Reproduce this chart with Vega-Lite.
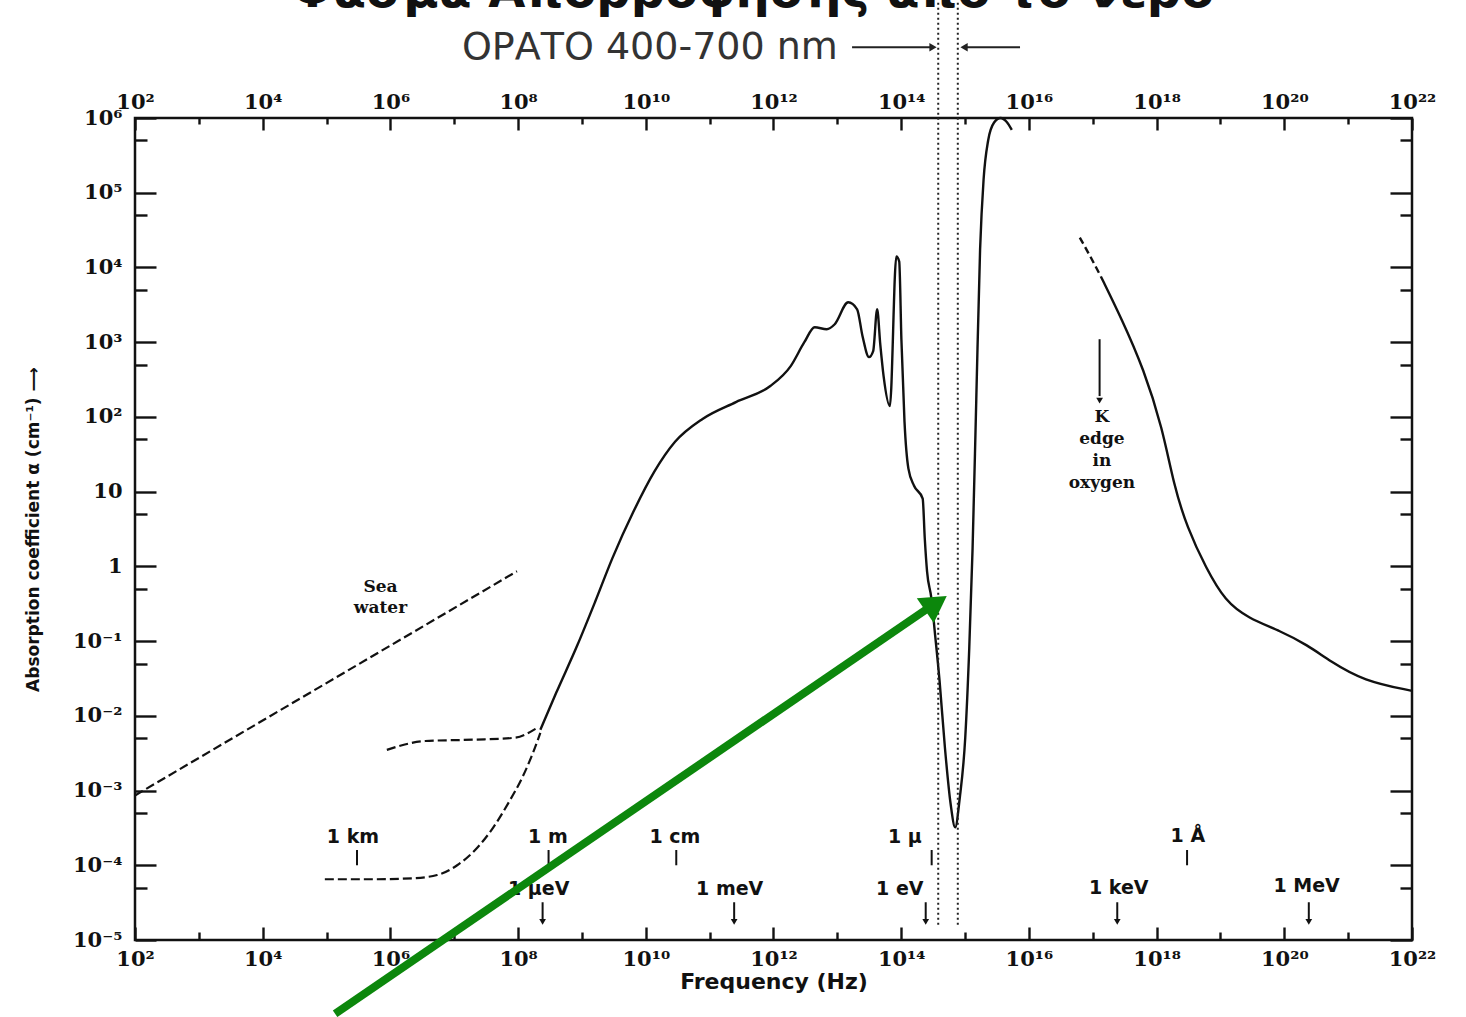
{
  "$schema": "https://vega.github.io/schema/vega-lite/v6.json",
  "autosize": {"type": "none"},
  "width": 1277,
  "height": 822,
  "padding": {"left": 135, "top": 118, "right": 54, "bottom": 77},
  "background": "white",
  "config": {
    "view": {"stroke": "#111", "strokeWidth": 2.5},
    "axis": {
      "domain": false, "grid": false, "tickColor": "#111", "tickWidth": 2.4,
      "labelFont": "DejaVu Serif", "labelFontWeight": "bold", "labelFontSize": 21,
      "labelColor": "#111", "labelFlush": false, "labelOverlap": false,
      "titleFont": "DejaVu Sans", "titleColor": "#111"
    }
  },
  "datasets": {
    "main": [
      {"f": 2.23e8, "a": 0.0065}, {"f": 3.95e8, "a": 0.0203}, {"f": 8.49e8, "a": 0.0885},
      {"f": 1.62e9, "a": 0.341}, {"f": 2.99e9, "a": 1.28}, {"f": 6.41e9, "a": 5.41},
      {"f": 1.36e10, "a": 18.5}, {"f": 2.87e10, "a": 46.4}, {"f": 7.74e10, "a": 94},
      {"f": 2.58e11, "a": 158}, {"f": 8.91e11, "a": 259}, {"f": 1.86e12, "a": 479},
      {"f": 3.04e12, "a": 1000}, {"f": 4.42e12, "a": 1585}, {"f": 6.81e12, "a": 1490},
      {"f": 9.1e12, "a": 1738}, {"f": 1.48e13, "a": 3415}, {"f": 2.04e13, "a": 2754},
      {"f": 2.48e13, "a": 1202}, {"f": 3.13e13, "a": 631}, {"f": 3.64e13, "a": 759},
      {"f": 4.2e13, "a": 2754}, {"f": 4.7e13, "a": 940}, {"f": 5.3e13, "a": 352},
      {"f": 6.65e13, "a": 140}, {"f": 8.39e13, "a": 14028}, {"f": 9.31e13, "a": 12023},
      {"f": 1.007e14, "a": 1096}, {"f": 1.127e14, "a": 85.8}, {"f": 1.297e14, "a": 20.3},
      {"f": 1.589e14, "a": 12.0}, {"f": 2.17e14, "a": 8.07}, {"f": 2.34e14, "a": 2.36},
      {"f": 2.54e14, "a": 0.858}, {"f": 2.97e14, "a": 0.374}, {"f": 3.35e14, "a": 0.136},
      {"f": 3.99e14, "a": 0.0293}, {"f": 4.84e14, "a": 0.00374}, {"f": 5.96e14, "a": 0.00065},
      {"f": 7.0e14, "a": 0.000321}, {"f": 8.28e14, "a": 0.000807}, {"f": 1.007e15, "a": 0.00509},
      {"f": 1.164e15, "a": 0.0807}, {"f": 1.312e15, "a": 1.74}, {"f": 1.5e15, "a": 174},
      {"f": 1.72e15, "a": 17378}, {"f": 1.95e15, "a": 149000}, {"f": 2.3e15, "a": 500000},
      {"f": 2.85e15, "a": 870000}, {"f": 3.6e15, "a": 1000000}, {"f": 4.5e15, "a": 885000},
      {"f": 5.4e15, "a": 692000}
    ],
    "right": [
      {"f": 1.34e17, "a": 7586}, {"f": 2.86e17, "a": 2027}, {"f": 6.28e17, "a": 437},
      {"f": 1.23e18, "a": 72}, {"f": 1.87e18, "a": 12.0}, {"f": 3.01e18, "a": 3.3},
      {"f": 5.96e18, "a": 0.94}, {"f": 1.19e19, "a": 0.341}, {"f": 2.7e19, "a": 0.203},
      {"f": 8.79e19, "a": 0.136}, {"f": 2.3e20, "a": 0.0885}, {"f": 5.2e20, "a": 0.0541},
      {"f": 1.74e21, "a": 0.0293}, {"f": 1e22, "a": 0.0216}
    ],
    "kdash": [
      {"f": 6.27e16, "a": 25119}, {"f": 9.16e16, "a": 14028}, {"f": 1.34e17, "a": 7586}
    ],
    "dashLow": [
      {"f": 9.4e4, "a": 6.5e-5}, {"f": 5.1e5, "a": 6.5e-5}, {"f": 2.2e6, "a": 6.7e-5},
      {"f": 5.4e6, "a": 7.4e-5}, {"f": 1.11e7, "a": 1.0e-4}, {"f": 2.33e7, "a": 1.74e-4},
      {"f": 4.07e7, "a": 3.2e-4}, {"f": 7.1e7, "a": 6.9e-4}, {"f": 1.16e8, "a": 0.00149},
      {"f": 1.71e8, "a": 0.0032}, {"f": 2.23e8, "a": 0.0059}
    ],
    "dashMid": [
      {"f": 8.8e5, "a": 0.0035}, {"f": 3.5e6, "a": 0.0046}, {"f": 2.1e7, "a": 0.0048},
      {"f": 9.0e7, "a": 0.0051}, {"f": 1.87e8, "a": 0.0067}
    ],
    "sea": [
      {"f": 100, "a": 0.00086}, {"f": 9.6e7, "a": 0.86}
    ],
    "visible": [
      {"f": 3.8e14, "a": 1.6e-5, "a2": 1e8},
      {"f": 7.7e14, "a": 1.6e-5, "a2": 1e8}
    ],
    "title": [
      {"f": 4.8e11, "a": 3.1e7, "label": "Φάσμα Απορρόφησης από το νερό"}
    ],
    "notes": [
      {"f": 7.0e5, "a": 0.525, "label": "Sea"},
      {"f": 7.0e5, "a": 0.275, "label": "water"},
      {"f": 1.39e17, "a": 100, "label": "K"},
      {"f": 1.39e17, "a": 50.9, "label": "edge"},
      {"f": 1.39e17, "a": 25.9, "label": "in"},
      {"f": 1.39e17, "a": 13.2, "label": "oxygen"}
    ],
    "scaleLabels": [
      {"f": 2.59e5, "a": 2.36e-4, "label": "1 km"},
      {"f": 2.93e8, "a": 2.36e-4, "label": "1 m"},
      {"f": 2.86e10, "a": 2.36e-4, "label": "1 cm"},
      {"f": 1.14e14, "a": 2.36e-4, "label": "1 μ"},
      {"f": 3.09e18, "a": 2.5e-4, "label": "1 Å"},
      {"f": 2.1e8, "a": 4.79e-5, "label": "1 μeV"},
      {"f": 2.06e11, "a": 4.79e-5, "label": "1 meV"},
      {"f": 9.5e13, "a": 4.79e-5, "label": "1 eV"},
      {"f": 2.55e17, "a": 5.0e-5, "label": "1 keV"},
      {"f": 2.24e20, "a": 5.2e-5, "label": "1 MeV"}
    ],
    "wticks": [
      {"f": 3e5, "a": 1.6e-4, "a2": 1.0e-4},
      {"f": 3e8, "a": 1.6e-4, "a2": 1.0e-4},
      {"f": 3e10, "a": 1.6e-4, "a2": 1.0e-4},
      {"f": 3e14, "a": 1.6e-4, "a2": 1.0e-4},
      {"f": 3e18, "a": 1.6e-4, "a2": 1.0e-4}
    ],
    "downArrows": [
      {"f": 2.42e8, "a": 3.2e-5, "a2": 1.9e-5, "h": 1.75e-5},
      {"f": 2.42e11, "a": 3.2e-5, "a2": 1.9e-5, "h": 1.75e-5},
      {"f": 2.42e14, "a": 3.2e-5, "a2": 1.9e-5, "h": 1.75e-5},
      {"f": 2.42e17, "a": 3.2e-5, "a2": 1.9e-5, "h": 1.75e-5},
      {"f": 2.42e20, "a": 3.2e-5, "a2": 1.9e-5, "h": 1.75e-5},
      {"f": 1.28e17, "a": 1096, "a2": 190, "h": 165}
    ],
    "header": [
      {"f": 1.02e13, "a": 8.6e6, "label": "ΟΡΑΤΟ 400-700 nm"}
    ],
    "headerArrows": [
      {"f": 1.7e13, "f2": 3.15e14, "a": 8.85e6},
      {"f": 9.64e14, "f2": 7.26e15, "a": 8.85e6}
    ],
    "headRight": [{"f": 3.15e14, "a": 8.85e6}],
    "headLeft": [{"f": 9.64e14, "a": 8.85e6}],
    "green": [
      {"f": 1.36e5, "a": 1.03e-6}, {"f": 2.63e14, "a": 0.275}
    ],
    "greenHead": [{"f": 3.51e14, "a": 0.321}]
  },
  "encoding": {
    "x": {"field": "f", "type": "quantitative", "scale": {"type": "log", "domain": [100, 1e22], "nice": false}, "axis": null},
    "y": {"field": "a", "type": "quantitative", "scale": {"type": "log", "domain": [1e-5, 1e6], "nice": false}, "axis": null}
  },
  "resolve": {"axis": {"x": "independent", "y": "independent"}},
  "layer": [
    {
      "data": {"name": "main"},
      "mark": {"type": "line", "color": "#111", "strokeWidth": 2.4, "interpolate": "monotone"},
      "encoding": {
        "x": {"field": "f", "type": "quantitative", "scale": {"type": "log", "domain": [100, 1e22], "nice": false},
          "axis": {"orient": "bottom", "values": [1e2, 1e4, 1e6, 1e8, 1e10, 1e12, 1e14, 1e16, 1e18, 1e20, 1e22],
            "tickSize": -13, "labelPadding": 21,
            "labelExpr": "['','','10²','','10⁴','','10⁶','','10⁸','','10¹⁰','','10¹²','','10¹⁴','','10¹⁶','','10¹⁸','','10²⁰','','10²²'][round(log(datum.value)/LN10)]",
            "title": "Frequency (Hz)", "titleFontSize": 22, "titleFontWeight": "bold", "titlePadding": 2}},
        "y": {"field": "a", "type": "quantitative", "scale": {"type": "log", "domain": [1e-5, 1e6], "nice": false},
          "axis": {"orient": "left", "values": [1e-5, 1e-4, 1e-3, 1e-2, 1e-1, 1, 10, 100, 1000, 1e4, 1e5, 1e6],
            "tickSize": -21, "labelPadding": 34,
            "labelExpr": "['10⁻⁵','10⁻⁴','10⁻³','10⁻²','10⁻¹','1','10','10²','10³','10⁴','10⁵','10⁶'][round(log(datum.value)/LN10)+5]",
            "title": "Absorption coefficient α (cm⁻¹) ⟶", "titleFontSize": 17, "titleFontWeight": "bold", "titlePadding": 30}}
      }
    },
    {
      "data": {"name": "dashLow"},
      "mark": {"type": "line", "color": "#111", "strokeWidth": 2.2, "strokeDash": [9, 4], "interpolate": "monotone"},
      "encoding": {
        "x": {"field": "f", "type": "quantitative",
          "axis": {"orient": "bottom", "values": [1e3, 1e5, 1e7, 1e9, 1e11, 1e13, 1e15, 1e17, 1e19, 1e21],
            "tickSize": -8, "labels": false, "title": null}},
        "y": {"field": "a", "type": "quantitative",
          "axis": {"orient": "left", "values": [5e-5, 5e-4, 5e-3, 5e-2, 0.5, 5, 50, 500, 5000, 5e4, 5e5],
            "tickSize": -12, "labels": false, "title": null}}
      }
    },
    {
      "data": {"name": "dashMid"},
      "mark": {"type": "line", "color": "#111", "strokeWidth": 2.2, "strokeDash": [9, 4], "interpolate": "monotone"},
      "encoding": {
        "x": {"field": "f", "type": "quantitative",
          "axis": {"orient": "top", "values": [1e2, 1e4, 1e6, 1e8, 1e10, 1e12, 1e14, 1e16, 1e18, 1e20, 1e22],
            "tickSize": -12, "labelPadding": 18,
            "labelExpr": "['','','10²','','10⁴','','10⁶','','10⁸','','10¹⁰','','10¹²','','10¹⁴','','10¹⁶','','10¹⁸','','10²⁰','','10²²'][round(log(datum.value)/LN10)]",
            "title": null}},
        "y": {"field": "a", "type": "quantitative",
          "axis": {"orient": "right", "values": [1e-5, 1e-4, 1e-3, 1e-2, 1e-1, 1, 10, 100, 1000, 1e4, 1e5, 1e6],
            "tickSize": -22, "labels": false, "title": null}}
      }
    },
    {
      "data": {"name": "sea"},
      "mark": {"type": "line", "color": "#111", "strokeWidth": 2.2, "strokeDash": [9, 4]},
      "encoding": {
        "x": {"field": "f", "type": "quantitative",
          "axis": {"orient": "top", "values": [1e3, 1e5, 1e7, 1e9, 1e11, 1e13, 1e15, 1e17, 1e19, 1e21],
            "tickSize": -6, "labels": false, "title": null}},
        "y": {"field": "a", "type": "quantitative",
          "axis": {"orient": "right", "values": [5e-5, 5e-4, 5e-3, 5e-2, 0.5, 5, 50, 500, 5000, 5e4, 5e5],
            "tickSize": -12, "labels": false, "title": null}}
      }
    },
    {
      "data": {"name": "right"},
      "mark": {"type": "line", "color": "#111", "strokeWidth": 2.4, "interpolate": "basis"}
    },
    {
      "data": {"name": "kdash"},
      "mark": {"type": "line", "color": "#111", "strokeWidth": 2.4, "strokeDash": [7, 4]}
    },
    {
      "data": {"name": "visible"},
      "mark": {"type": "rule", "color": "#222", "strokeWidth": 2, "strokeDash": [2, 3]},
      "encoding": {"y2": {"field": "a2"}}
    },
    {
      "data": {"name": "wticks"},
      "mark": {"type": "rule", "color": "#111", "strokeWidth": 2},
      "encoding": {"y2": {"field": "a2"}}
    },
    {
      "data": {"name": "downArrows"},
      "mark": {"type": "rule", "color": "#111", "strokeWidth": 2},
      "encoding": {"y2": {"field": "a2"}}
    },
    {
      "data": {"name": "downArrows"},
      "mark": {"type": "point", "shape": "triangle-down", "filled": true, "color": "#111", "size": 45, "opacity": 1},
      "encoding": {"y": {"field": "h", "type": "quantitative", "axis": null}}
    },
    {
      "data": {"name": "title"},
      "mark": {"type": "text", "font": "DejaVu Sans", "fontWeight": "bold", "fontSize": 48, "color": "#111", "align": "center", "baseline": "alphabetic"},
      "encoding": {"text": {"field": "label"}}
    },
    {
      "data": {"name": "notes"},
      "mark": {"type": "text", "font": "DejaVu Serif", "fontWeight": "bold", "fontSize": 17, "color": "#111", "align": "center", "baseline": "middle"},
      "encoding": {"text": {"field": "label"}}
    },
    {
      "data": {"name": "scaleLabels"},
      "mark": {"type": "text", "font": "DejaVu Sans", "fontWeight": "bold", "fontSize": 19, "color": "#111", "align": "center", "baseline": "middle"},
      "encoding": {"text": {"field": "label"}}
    },
    {
      "data": {"name": "header"},
      "mark": {"type": "text", "font": "DejaVu Sans", "fontSize": 38, "color": "#333", "align": "right", "baseline": "middle"},
      "encoding": {"text": {"field": "label"}}
    },
    {
      "data": {"name": "headerArrows"},
      "mark": {"type": "rule", "color": "#222", "strokeWidth": 2},
      "encoding": {"x2": {"field": "f2"}}
    },
    {
      "data": {"name": "headRight"},
      "mark": {"type": "point", "shape": "triangle-right", "filled": true, "color": "#222", "size": 70, "opacity": 1}
    },
    {
      "data": {"name": "headLeft"},
      "mark": {"type": "point", "shape": "triangle-left", "filled": true, "color": "#222", "size": 70, "opacity": 1}
    },
    {
      "data": {"name": "green"},
      "mark": {"type": "line", "color": "#0c870c", "strokeWidth": 8, "strokeCap": "butt"}
    },
    {
      "data": {"name": "greenHead"},
      "mark": {"type": "point", "shape": "triangle-right", "filled": true, "color": "#0c870c", "size": 900, "angle": -34.4, "opacity": 1}
    }
  ]
}
